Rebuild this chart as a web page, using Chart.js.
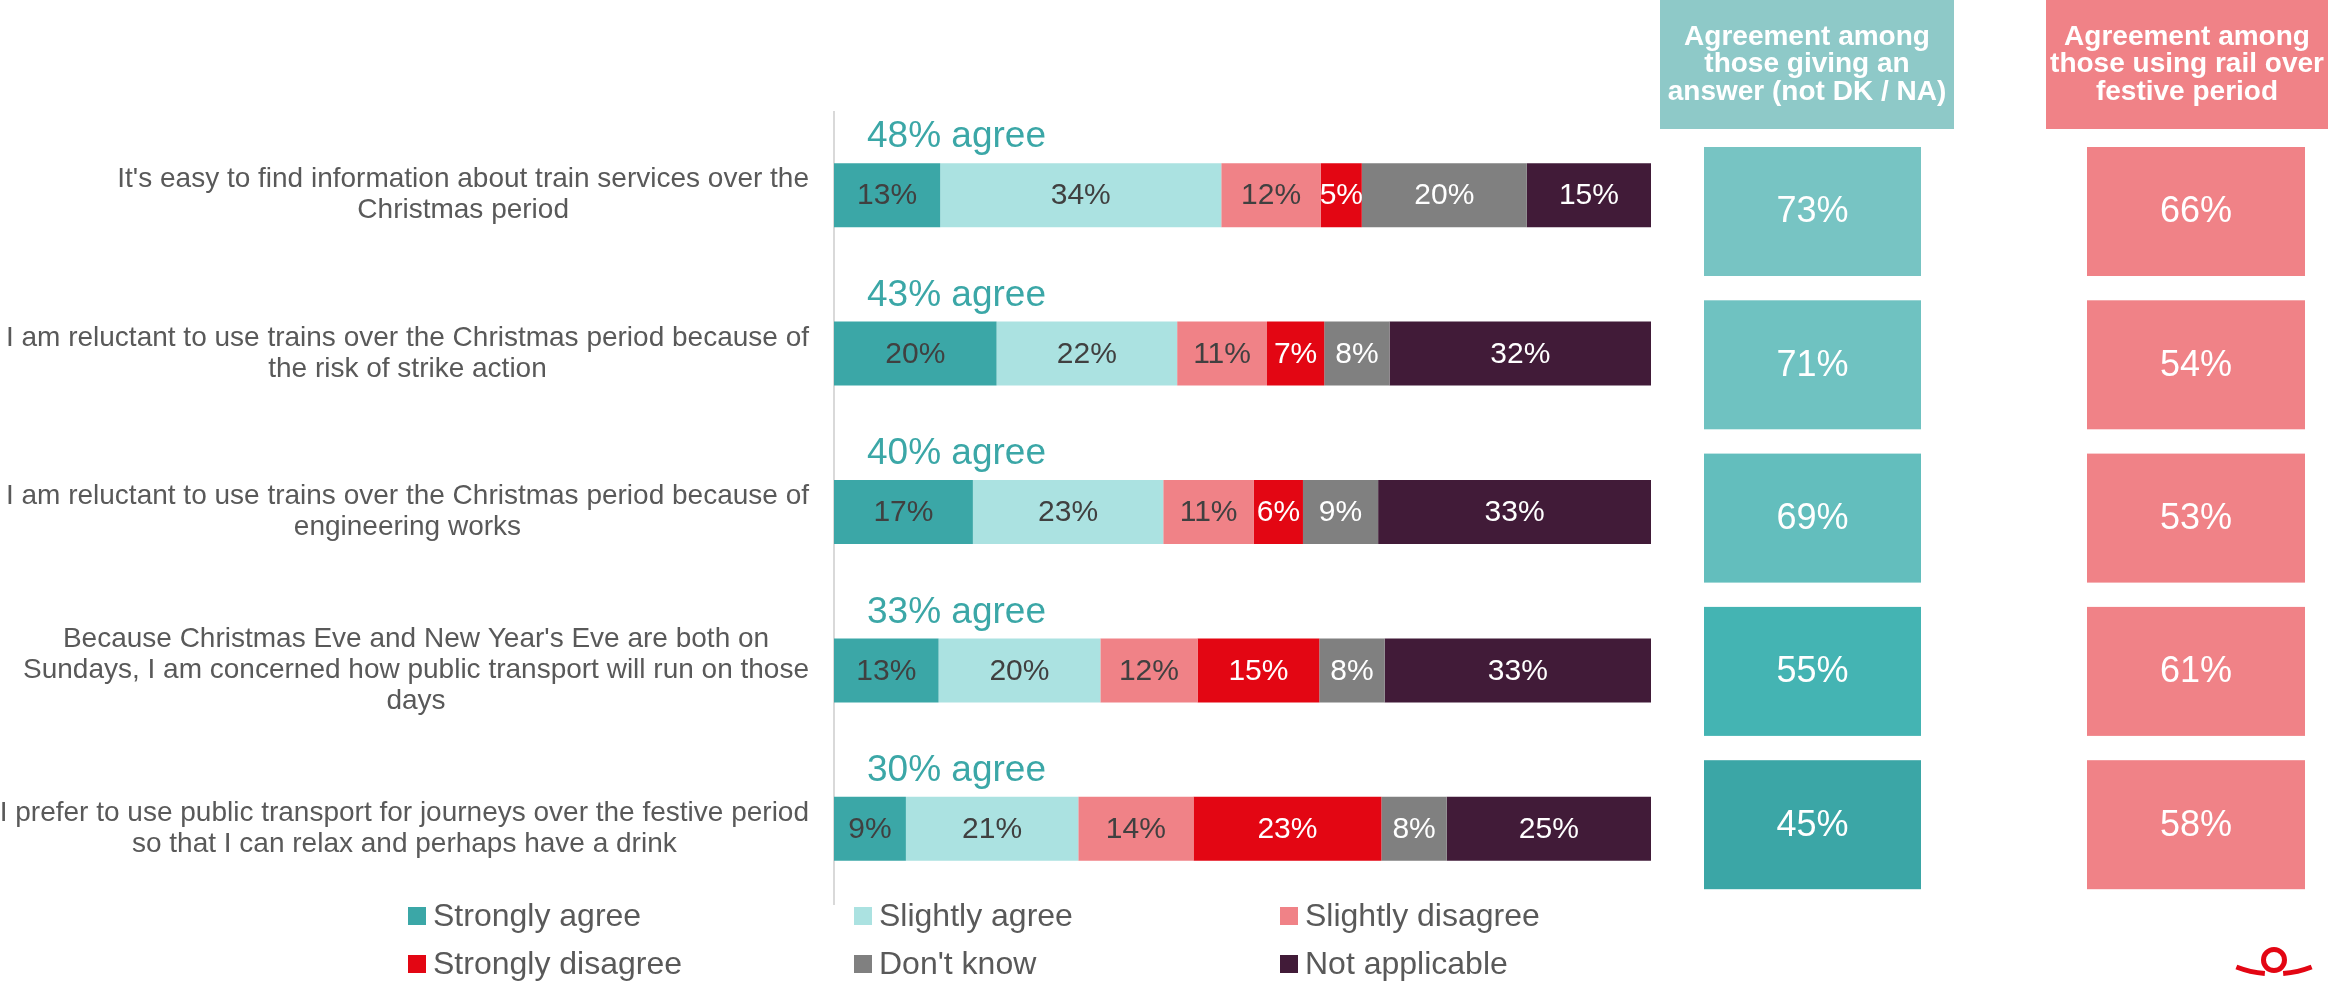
<!DOCTYPE html>
<html>
<head>
<meta charset="utf-8">
<script src="https://cdn.jsdelivr.net/npm/chart.js@4.4.0/dist/chart.umd.min.js"></script>
<style>
  html, body { margin: 0; padding: 0; background: #fff; }
  #wrap { width: 2328px; height: 981px; }
</style>
</head>
<body>
<div id="wrap"><canvas id="chart" width="2328" height="981"></canvas></div>
<script>
// Statements (one entry per bar, lines as drawn)
const categories = [
  ["It's easy to find information about train services over the", "Christmas period"],
  ["I am reluctant to use trains over the Christmas period because of", "the risk of strike action"],
  ["I am reluctant to use trains over the Christmas period because of", "engineering works"],
  ["Because Christmas Eve and New Year's Eve are both on", "Sundays, I am concerned how public transport will run on those", "days"],
  ["I prefer to use public transport for journeys over the festive period", "so that I can relax and perhaps have a drink"]
];

// Segment shares, % (labels are rounded)
const stronglyAgree    = [13.0, 19.9, 17.0, 12.8, 8.8];
const slightlyAgree    = [34.4, 22.1, 23.3, 19.8, 21.1];
const slightlyDisagree = [12.2, 11.0, 11.1, 11.9, 14.1];
const stronglyDisagree = [5.0, 7.0, 6.0, 14.9, 23.0];
const dontKnow         = [20.2, 8.0, 9.2, 8.0, 8.0];
const notApplicable    = [15.2, 32.0, 33.4, 32.6, 25.0];

// Totals printed above each bar
const agreeTotals = [48, 43, 40, 33, 30];

// Side columns
const answerAgree = [73, 71, 69, 55, 45];
const railAgree   = [66, 54, 53, 61, 58];

const FONT = '"Liberation Sans", Arial, sans-serif';
const GREY_TEXT = "#595959";
const TEAL = "#3ba7a7";

const seriesColors = ["#3ba7a7", "#abe2e1", "#f08287", "#e30613", "#808080", "#411b38"];
const seriesText   = ["#404040", "#404040", "#404040", "#ffffff", "#ffffff", "#ffffff"];
const answerColors = ["#77c4c3", "#6fc2c1", "#63bebd", "#44b4b3", "#3ba6a6"];

const datasets = [
  ["Strongly agree", stronglyAgree],
  ["Slightly agree", slightlyAgree],
  ["Slightly disagree", slightlyDisagree],
  ["Strongly disagree", stronglyDisagree],
  ["Don't know", dontKnow],
  ["Not applicable", notApplicable]
].map(([label, data], i) => ({
  label,
  data,
  backgroundColor: seriesColors[i],
  borderWidth: 0,
  categoryPercentage: 1,
  barPercentage: 0.404
}));

// Axis line sits behind the bars
const axisLine = {
  id: "axisLine",
  beforeDatasetsDraw(chart) {
    const { ctx, chartArea } = chart;
    ctx.save();
    ctx.strokeStyle = "#d9d9d9";
    ctx.lineWidth = 2;
    ctx.beginPath();
    ctx.moveTo(chartArea.left, 111);
    ctx.lineTo(chartArea.left, 905);
    ctx.stroke();
    ctx.restore();
  }
};

const annotations = {
  id: "annotations",
  afterDatasetsDraw(chart) {
    const { ctx, chartArea, scales: { y } } = chart;
    ctx.save();
    ctx.textBaseline = "middle";

    // value inside each segment
    ctx.textAlign = "center";
    ctx.font = `30px ${FONT}`;
    chart.data.datasets.forEach((ds, di) => {
      chart.getDatasetMeta(di).data.forEach((bar, i) => {
        const p = bar.getProps(["x", "base", "y"], true);
        ctx.fillStyle = seriesText[di];
        ctx.fillText(Math.round(ds.data[i]) + "%", (p.x + p.base) / 2, p.y + 1);
      });
    });

    // statements: block right-aligned, lines centred in the block
    ctx.font = `28px ${FONT}`;
    ctx.fillStyle = GREY_TEXT;
    const lineH = 31;
    categories.forEach((lines, i) => {
      const cy = y.getPixelForValue(i);
      const w = Math.max(...lines.map(l => ctx.measureText(l).width));
      const cx = 809 - w / 2;
      const top = cy - (lines.length - 1) * lineH / 2;
      lines.forEach((l, k) => ctx.fillText(l, cx, top + k * lineH));
    });

    // "xx% agree"
    ctx.textAlign = "left";
    ctx.font = `37px ${FONT}`;
    ctx.fillStyle = TEAL;
    agreeTotals.forEach((v, i) => {
      ctx.fillText(v + "% agree", chartArea.left + 33, y.getPixelForValue(i) - 58);
    });
    ctx.restore();
  },

  afterDraw(chart) {
    const { ctx } = chart;
    ctx.save();
    ctx.textAlign = "center";
    ctx.textBaseline = "middle";

    // column headers
    const headers = [
      { x: 1660, w: 294, color: "#8ec9c8", lines: ["Agreement among", "those giving an", "answer (not DK / NA)"] },
      { x: 2046, w: 282, color: "#f08287", lines: ["Agreement among", "those using rail over", "festive period"] }
    ];
    ctx.font = `bold 28px ${FONT}`;
    headers.forEach(h => {
      ctx.fillStyle = h.color;
      ctx.fillRect(h.x, 0, h.w, 129);
      ctx.fillStyle = "#ffffff";
      h.lines.forEach((l, k) => ctx.fillText(l, h.x + h.w / 2, 37 + k * 27.5));
    });

    // value boxes
    ctx.font = `36px ${FONT}`;
    const boxTop = 147, boxH = 129, pitch = 153.3;
    answerAgree.forEach((v, i) => {
      const top = boxTop + i * pitch;
      ctx.fillStyle = answerColors[i];
      ctx.fillRect(1704, top, 217, boxH);
      ctx.fillStyle = "#ffffff";
      ctx.fillText(v + "%", 1704 + 217 / 2, top + boxH / 2 + 1);
    });
    railAgree.forEach((v, i) => {
      const top = boxTop + i * pitch;
      ctx.fillStyle = "#f08287";
      ctx.fillRect(2087, top, 218, boxH);
      ctx.fillStyle = "#ffffff";
      ctx.fillText(v + "%", 2087 + 218 / 2, top + boxH / 2 + 1);
    });

    // legend, 3 columns x 2 rows
    const colX = [408, 854, 1280], rowY = [916, 964];
    ctx.textAlign = "left";
    ctx.font = `32px ${FONT}`;
    chart.data.datasets.forEach((ds, i) => {
      const x = colX[i % 3], yy = rowY[Math.floor(i / 3)];
      ctx.fillStyle = ds.backgroundColor;
      ctx.fillRect(x, yy - 9, 18, 18);
      ctx.fillStyle = GREY_TEXT;
      ctx.fillText(ds.label, x + 25, yy + 1);
    });

    // logo fragment, bottom right
    ctx.strokeStyle = "#e30613";
    ctx.lineWidth = 5;
    ctx.beginPath();
    ctx.arc(2274, 960, 10.5, 0, Math.PI * 2);
    ctx.stroke();
    const d = Math.PI / 180;
    ctx.beginPath();
    ctx.arc(2274, 869, 105, 95 * d, 111 * d);
    ctx.stroke();
    ctx.beginPath();
    ctx.arc(2274, 869, 105, 69 * d, 85 * d);
    ctx.stroke();
    ctx.restore();
  }
};

new Chart(document.getElementById("chart"), {
  type: "bar",
  data: { labels: categories.map(c => c.join(" ")), datasets },
  options: {
    indexAxis: "y",
    responsive: false,
    animation: false,
    layout: { padding: { left: 834, right: 677, top: 116, bottom: 73 } },
    plugins: { legend: { display: false }, tooltip: { enabled: false } },
    scales: {
      x: { stacked: true, min: 0, max: 100, display: false },
      y: { stacked: true, display: false }
    }
  },
  plugins: [axisLine, annotations]
});
</script>
</body>
</html>
